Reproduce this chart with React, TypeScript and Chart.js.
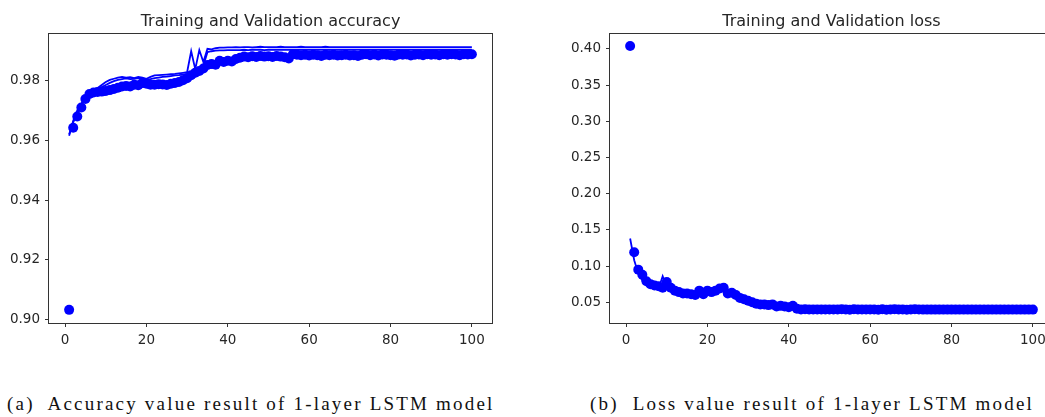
import React, { useEffect, useRef } from "react";
import { Chart, registerables } from "chart.js";

Chart.register(...registerables);

const epochs = [
  1, 2, 3, 4, 5, 6, 7, 8, 9, 10, 11, 12, 13, 14, 15, 16, 17, 18, 19, 20,
  21, 22, 23, 24, 25, 26, 27, 28, 29, 30, 31, 32, 33, 34, 35, 36, 37, 38, 39, 40,
  41, 42, 43, 44, 45, 46, 47, 48, 49, 50, 51, 52, 53, 54, 55, 56, 57, 58, 59, 60,
  61, 62, 63, 64, 65, 66, 67, 68, 69, 70, 71, 72, 73, 74, 75, 76, 77, 78, 79, 80,
  81, 82, 83, 84, 85, 86, 87, 88, 89, 90, 91, 92, 93, 94, 95, 96, 97, 98, 99, 100,
];

const accTrain = [
  0.9033, 0.9642, 0.968, 0.971, 0.9738, 0.9755, 0.976, 0.9762, 0.9763, 0.9765,
  0.9768, 0.9772, 0.9776, 0.978, 0.9782, 0.978, 0.9786, 0.9784, 0.9792, 0.9789,
  0.9786, 0.9786, 0.9788, 0.9787, 0.9785, 0.9789, 0.9792, 0.9795, 0.9801, 0.9808,
  0.9818, 0.9826, 0.9832, 0.984, 0.9852, 0.9855, 0.9853, 0.9866, 0.9862, 0.9866,
  0.9864, 0.9872, 0.9876, 0.988, 0.9878, 0.9881, 0.9879, 0.9882, 0.988, 0.9881,
  0.9879, 0.9882, 0.988, 0.9878, 0.9874, 0.9888, 0.9886, 0.9885, 0.9886, 0.9884,
  0.9886, 0.9885, 0.9882, 0.9886, 0.9885, 0.9886, 0.9884, 0.9885, 0.9886, 0.9884,
  0.9885, 0.9882, 0.9886, 0.9888, 0.9885, 0.9887, 0.9884, 0.9887, 0.9886, 0.9885,
  0.9883, 0.9887, 0.9886, 0.9887, 0.9884, 0.9886, 0.9887, 0.9885, 0.9888, 0.9886,
  0.9887, 0.9885, 0.9888, 0.9886, 0.9888, 0.9887, 0.9885, 0.9888, 0.9887, 0.9888,
];

const accValA = [
  0.9615, 0.9665, 0.97, 0.9722, 0.975, 0.9765, 0.977, 0.9775, 0.9785, 0.9795,
  0.9802, 0.9806, 0.981, 0.9812, 0.981, 0.9811, 0.9808, 0.9812, 0.981, 0.9806,
  0.9812, 0.9817, 0.9818, 0.9819, 0.982, 0.9821, 0.9822, 0.9824, 0.9826, 0.9828,
  0.9898, 0.9838, 0.9902, 0.9862, 0.9906, 0.9904, 0.9908, 0.991, 0.991, 0.9911,
  0.9911, 0.9912, 0.9911, 0.9912, 0.9912, 0.9911, 0.9912, 0.9913, 0.9912, 0.9912,
  0.9912, 0.9912, 0.9913, 0.9912, 0.9912, 0.9912, 0.9912, 0.9913, 0.9912, 0.9912,
  0.9912, 0.9912, 0.9912, 0.9913, 0.9912, 0.9912, 0.9912, 0.9912, 0.9912, 0.9912,
  0.9912, 0.9912, 0.9912, 0.9912, 0.9912, 0.9912, 0.9912, 0.9912, 0.9912, 0.9912,
  0.9912, 0.9912, 0.9912, 0.9912, 0.9912, 0.9912, 0.9912, 0.9912, 0.9912, 0.9912,
  0.9912, 0.9912, 0.9912, 0.9912, 0.9912, 0.9912, 0.9912, 0.9912, 0.9912, 0.9912,
];

const accValB = [
  0.962, 0.966, 0.969, 0.972, 0.9745, 0.976, 0.9765, 0.9772, 0.9778, 0.9785,
  0.9792, 0.9798, 0.9802, 0.9805, 0.9807, 0.9805, 0.9806, 0.9808, 0.9806, 0.9802,
  0.9805, 0.9808, 0.981, 0.9812, 0.9813, 0.9815, 0.9817, 0.9818, 0.982, 0.9822,
  0.9825, 0.983, 0.9835, 0.985, 0.9895, 0.9898, 0.99, 0.9901, 0.9901, 0.9902,
  0.9902, 0.9902, 0.9902, 0.9903, 0.9902, 0.9903, 0.9903, 0.9903, 0.9902, 0.9903,
  0.9903, 0.9903, 0.9903, 0.9903, 0.9903, 0.9903, 0.9903, 0.9903, 0.9903, 0.9903,
  0.9903, 0.9903, 0.9903, 0.9903, 0.9903, 0.9903, 0.9903, 0.9903, 0.9903, 0.9903,
  0.9903, 0.9903, 0.9903, 0.9903, 0.9903, 0.9903, 0.9903, 0.9903, 0.9903, 0.9903,
  0.9903, 0.9903, 0.9903, 0.9903, 0.9903, 0.9903, 0.9903, 0.9903, 0.9903, 0.9903,
  0.9903, 0.9903, 0.9903, 0.9903, 0.9903, 0.9903, 0.9903, 0.9903, 0.9903, 0.9903,
];

const lossTrain = [
  0.404, 0.119, 0.095, 0.088, 0.079, 0.075, 0.073, 0.072, 0.07, 0.078,
  0.07, 0.066, 0.064, 0.062, 0.062, 0.061, 0.06, 0.066, 0.061, 0.066,
  0.064, 0.066, 0.069, 0.07, 0.062, 0.063, 0.06, 0.056, 0.054, 0.052,
  0.05, 0.048, 0.047, 0.047, 0.046, 0.047, 0.044, 0.045, 0.044, 0.043,
  0.045, 0.041, 0.0401, 0.0402, 0.04, 0.0401, 0.0401, 0.04, 0.0401, 0.04,
  0.0401, 0.04, 0.0402, 0.04, 0.0395, 0.0402, 0.0401, 0.0401, 0.04, 0.04,
  0.0399, 0.0395, 0.0402, 0.0396, 0.0401, 0.0402, 0.0401, 0.04, 0.0397, 0.0399,
  0.0402, 0.0401, 0.0398, 0.0398, 0.0398, 0.0398, 0.0398, 0.0398, 0.0398, 0.0398,
  0.0398, 0.0398, 0.0398, 0.0398, 0.0398, 0.0398, 0.0398, 0.0398, 0.0398, 0.0398,
  0.0398, 0.0398, 0.0398, 0.0398, 0.0398, 0.0398, 0.0398, 0.0398, 0.0398, 0.0398,
];

const lossVal = [
  0.138, 0.108, 0.09, 0.08, 0.073, 0.071, 0.07, 0.069, 0.086, 0.071,
  0.068, 0.065, 0.063, 0.062, 0.061, 0.06, 0.06, 0.062, 0.062, 0.064,
  0.065, 0.066, 0.067, 0.068, 0.064, 0.06, 0.058, 0.055, 0.053, 0.051,
  0.049, 0.047, 0.046, 0.046, 0.045, 0.045, 0.044, 0.044, 0.043, 0.043,
  0.042, 0.041, 0.0405, 0.0403, 0.0402, 0.0401, 0.04, 0.04, 0.04, 0.04,
  0.0399, 0.0399, 0.0399, 0.0398, 0.0398, 0.0398, 0.0397, 0.0397, 0.0397, 0.0396,
  0.0396, 0.0396, 0.0396, 0.0395, 0.0395, 0.0395, 0.0395, 0.0395, 0.0394, 0.0394,
  0.0394, 0.0394, 0.0394, 0.0394, 0.0393, 0.0393, 0.0393, 0.0393, 0.0393, 0.0393,
  0.0393, 0.0393, 0.0392, 0.0392, 0.0392, 0.0392, 0.0392, 0.0392, 0.0392, 0.0392,
  0.0392, 0.0392, 0.0392, 0.0392, 0.0392, 0.0392, 0.0391, 0.0391, 0.0391, 0.0391,
];

const xTicks = [0, 20, 40, 60, 80, 100];
const accTicks = [0.9, 0.92, 0.94, 0.96, 0.98];
const lossTicks = [0.05, 0.1, 0.15, 0.2, 0.25, 0.3, 0.35, 0.4];

const BLUE = "#0000ff";
const AXIS = "#333333";
const TEXT = "#262626";
const FONT = "'DejaVu Sans', sans-serif";

const frame = {
  id: "frame",
  afterDatasetsDraw(chart: any) {
    const { ctx, chartArea: a } = chart;
    ctx.save();
    ctx.strokeStyle = AXIS;
    ctx.lineWidth = 1;
    ctx.strokeRect(Math.round(a.left) - 0.5, Math.round(a.top) - 0.5, Math.round(a.right - a.left) + 1, Math.round(a.bottom - a.top) + 1);
    ctx.restore();
  },
};

function pts(vals: number[]) {
  return epochs.map((e, i) => ({ x: e, y: vals[i] }));
}

function makeConfig(title: string, dots: number[], lines: number[][], yTicks: number[], yMin: number, yMax: number) {
  const datasets: any[] = [
    {
      data: pts(dots),
      showLine: false,
      pointRadius: 5,
      pointBorderWidth: 0,
      pointBackgroundColor: BLUE,
      backgroundColor: BLUE,
      borderColor: BLUE,
      order: 2,
    },
  ];
  lines.forEach((l) => {
    datasets.push({
      data: pts(l),
      showLine: true,
      pointRadius: 0,
      borderWidth: 1.8,
      borderColor: BLUE,
      backgroundColor: BLUE,
      tension: 0,
      order: 1,
    });
  });
  return {
    type: "scatter",
    data: { datasets },
    plugins: [frame],
    options: {
      animation: false,
      responsive: false,
      devicePixelRatio: 1,
      layout: { padding: { left: 0, right: 8, top: 0, bottom: 0 } },
      plugins: {
        legend: { display: false },
        tooltip: { enabled: false },
        title: {
          display: true,
          text: title,
          fullSize: false,
          color: TEXT,
          font: { family: FONT, size: 16, weight: "normal" },
          padding: { top: 12, bottom: 3 },
        },
      },
      scales: {
        x: {
          type: "linear",
          min: -3.95,
          max: 104.95,
          afterBuildTicks: (s: any) => {
            s.ticks = xTicks.map((v) => ({ value: v }));
          },
          afterFit: (s: any) => {
            s.height = 30;
          },
          border: { display: false },
          grid: { display: true, drawOnChartArea: false, drawTicks: true, tickLength: 4, tickColor: AXIS, tickWidth: 1 },
          ticks: {
            color: TEXT,
            font: { family: FONT, size: 13.5 },
            padding: 5,
            maxRotation: 0,
            autoSkip: false,
            callback: (v: any) => String(v),
          },
        },
        y: {
          type: "linear",
          min: yMin,
          max: yMax,
          afterBuildTicks: (s: any) => {
            s.ticks = yTicks.map((v) => ({ value: v }));
          },
          afterFit: (s: any) => {
            s.width = 49;
          },
          border: { display: false },
          grid: { display: true, drawOnChartArea: false, drawTicks: true, tickLength: 4, tickColor: AXIS, tickWidth: 1 },
          ticks: {
            color: TEXT,
            font: { family: FONT, size: 13.5 },
            padding: 5,
            autoSkip: false,
            callback: (v: any) => Number(v).toFixed(2),
          },
        },
      },
    },
  };
}

function ChartCanvas(props: { config: any; left: number; width: number; height: number }) {
  const ref = useRef<HTMLCanvasElement>(null);
  useEffect(() => {
    const chart = new Chart(ref.current as HTMLCanvasElement, props.config);
    return () => chart.destroy();
  }, []);
  return (
    <canvas
      ref={ref}
      width={props.width}
      height={props.height}
      style={{ position: "absolute", left: props.left, top: 0, width: props.width, height: props.height }}
    />
  );
}

export default function App() {
  const accCfg = makeConfig("Training and Validation accuracy", accTrain, [accValA, accValB], accTicks, 0.8989, 0.9955);
  const lossCfg = makeConfig("Training and Validation loss", lossTrain, [lossVal], lossTicks, 0.0213, 0.4203);
  const capStyle: React.CSSProperties = {
    position: "absolute",
    top: 393,
    fontFamily: "'Liberation Serif', serif",
    fontSize: 19,
    color: "#111",
    whiteSpace: "nowrap",
    lineHeight: "22px",
    letterSpacing: "2.2px",
  };
  return (
    <div style={{ position: "fixed", left: 0, top: 0, width: 1045, height: 417, overflow: "hidden", background: "#fff" }}>
      <ChartCanvas config={accCfg} left={0} width={500} height={353} />
      <ChartCanvas config={lossCfg} left={561} width={500} height={353} />
      <div style={{ ...capStyle, left: 7 }}>(a)&nbsp; Accuracy value result of 1-layer LSTM model</div>
      <div style={{ ...capStyle, left: 590 }}>(b)&nbsp; Loss value result of 1-layer LSTM model</div>
    </div>
  );
}
